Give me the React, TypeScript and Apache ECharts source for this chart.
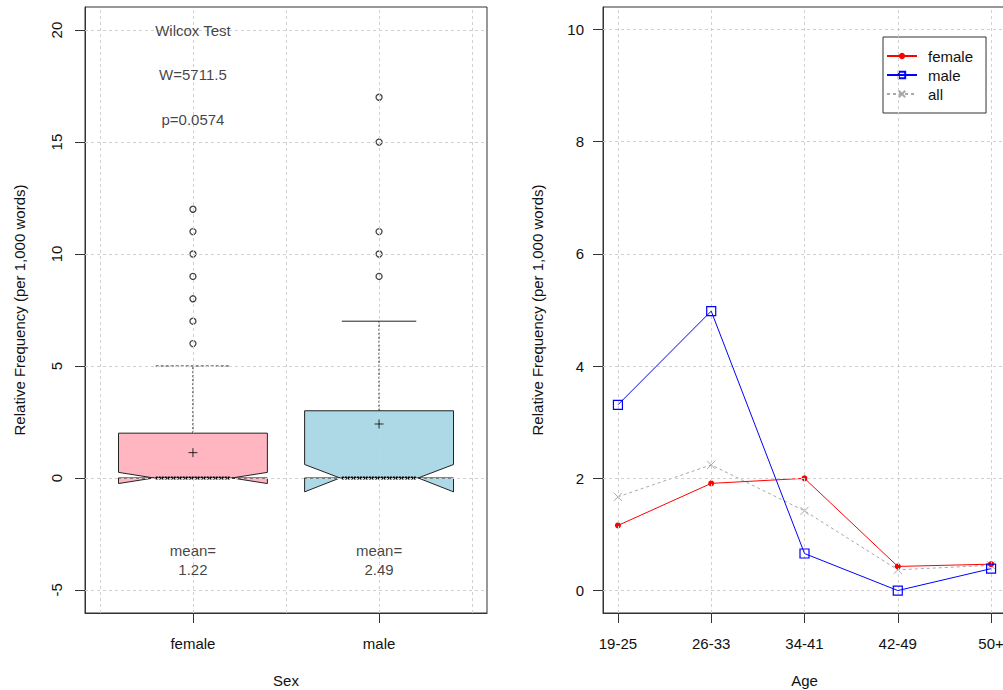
import React, { useEffect, useRef } from 'react';
import * as echarts from 'echarts';

// ---------- Left panel: Sex boxplot ----------
const sexCategories = ['female', 'male'];
const boxQ1 = [0, 0];
const boxMedian = [0, 0];
const boxQ3 = [2, 3];
const whiskerHigh = [5, 7];
const notchLow = [-0.25, -0.62];
const notchHigh = [0.25, 0.6];
const meanPoints = [1.13, 2.41];
const meanLabels = ['1.22', '2.49'];
const femaleOutliers = [6, 7, 8, 9, 10, 11, 12];
const maleOutliers = [9, 10, 11, 15, 17];
const wilcoxLines = ['Wilcox Test', 'W=5711.5', 'p=0.0574'];
const wilcoxY = [20, 18, 16];
const meanTextY = -3.68;
const leftYTicks = [-5, 0, 5, 10, 15, 20];
const leftGridX = [0.5, 1, 1.5, 2, 2.5];

// ---------- Right panel: Age lines ----------
const ageCategories = ['19-25', '26-33', '34-41', '42-49', '50+'];
const femaleFreq = [1.16, 1.91, 2.0, 0.43, 0.47];
const maleFreq = [3.31, 4.98, 0.66, 0, 0.39];
const allFreq = [1.67, 2.24, 1.42, 0.37, 0.45];
const rightYTicks = [0, 2, 4, 6, 8, 10];
const rightXTicks = [1, 2, 3, 4, 5];

// ---------- styles ----------
const FONT = '"Liberation Sans", Arial, sans-serif';
const TXT = '#111';
const FS = 15;
const boxFill = ['#FFB6C1', '#ADD8E6'];
const stapleDash: (number[] | null)[] = [[3, 2], null];
const gridLineStyle = { color: '#d0d0d0', type: [3, 3] as number[], width: 1 };

export default function App() {
  const ref = useRef<HTMLDivElement>(null);

  useEffect(() => {
    if (!ref.current) return;
    const chart = echarts.init(ref.current, undefined, { renderer: 'svg' });

    const boxData = sexCategories.map((_, i) => [
      i + 1, boxQ1[i], boxMedian[i], boxQ3[i], notchLow[i], notchHigh[i], whiskerHigh[i],
    ]);

    const outlierData: number[][] = [
      ...femaleOutliers.map((v) => [1, v]),
      ...maleOutliers.map((v) => [2, v]),
    ];

    const axisTick = { show: true, length: 10, inside: false, lineStyle: { color: '#333', width: 1 } };
    const axisLine = { show: true, onZero: false, lineStyle: { color: '#333', width: 1 } };

    const option: any = {
      animation: false,
      textStyle: { fontFamily: FONT },
      grid: [
        { left: 85, top: 7, right: 1003 - 487, bottom: 690 - 613, containLabel: false, outerBoundsMode: 'none', show: true, borderColor: '#333', borderWidth: 1, backgroundColor: 'transparent' },
        { left: 603, top: 7, right: -3, bottom: 690 - 613, containLabel: false, outerBoundsMode: 'none', show: true, borderColor: '#333', borderWidth: 1, backgroundColor: 'transparent' },
      ],
      xAxis: [
        {
          type: 'value', gridIndex: 0, min: 0.42, max: 2.58,
          axisLine, splitLine: { show: false },
          axisTick: { ...axisTick, customValues: [1, 2] },
          axisLabel: {
            customValues: [1, 2], margin: 23, fontSize: FS, color: TXT, fontFamily: FONT,
            formatter: (v: number) => sexCategories[Math.round(v) - 1] ?? '',
          },
          name: 'Sex', nameLocation: 'middle', nameGap: 60,
          nameTextStyle: { fontSize: FS, color: TXT, fontFamily: FONT },
        },
        {
          type: 'value', gridIndex: 1, min: 0.84, max: 5.16,
          axisLine, splitLine: { show: false },
          axisTick: { ...axisTick, customValues: rightXTicks },
          axisLabel: {
            customValues: rightXTicks, margin: 23, fontSize: FS, color: TXT, fontFamily: FONT,
            formatter: (v: number) => ageCategories[Math.round(v) - 1] ?? '',
          },
          name: 'Age', nameLocation: 'middle', nameGap: 60,
          nameTextStyle: { fontSize: FS, color: TXT, fontFamily: FONT },
        },
      ],
      yAxis: [
        {
          type: 'value', gridIndex: 0, min: -6.03, max: 21.03,
          axisLine, splitLine: { show: false },
          axisTick: { ...axisTick, customValues: leftYTicks },
          axisLabel: { customValues: leftYTicks, rotate: 90, margin: 21, fontSize: FS, color: TXT, fontFamily: FONT },
          name: 'Relative Frequency (per 1,000 words)', nameLocation: 'middle', nameGap: 58,
          nameTextStyle: { fontSize: FS, color: TXT, fontFamily: FONT },
        },
        {
          type: 'value', gridIndex: 1, min: -0.4, max: 10.4,
          axisLine, splitLine: { show: false },
          axisTick: { ...axisTick, customValues: rightYTicks },
          axisLabel: { customValues: rightYTicks, margin: 19, fontSize: FS, color: TXT, fontFamily: FONT },
          name: 'Relative Frequency (per 1,000 words)', nameLocation: 'middle', nameGap: 58,
          nameTextStyle: { fontSize: FS, color: TXT, fontFamily: FONT },
        },
      ],
      legend: {
        data: ['female', 'male', 'all'],
        orient: 'vertical', left: 883, top: 37,
        padding: [11, 13, 11, 3], itemGap: 3, itemWidth: 30, itemHeight: 8,
        borderColor: '#333', borderWidth: 1, borderRadius: 0, backgroundColor: '#fff',
        textStyle: { fontSize: FS, color: TXT, fontFamily: FONT, lineHeight: 16, padding: [0, 0, 0, 6] },
        selectedMode: false,
      },
      series: [
        // grid lines left
        {
          type: 'line', xAxisIndex: 0, yAxisIndex: 0, data: [], z: 0,
          markLine: {
            silent: true, symbol: ['none', 'none'], label: { show: false },
            lineStyle: gridLineStyle,
            data: [...leftGridX.map((v) => ({ xAxis: v })), ...leftYTicks.map((v) => ({ yAxis: v }))],
          },
        },
        // grid lines right
        {
          type: 'line', xAxisIndex: 1, yAxisIndex: 1, data: [], z: 0,
          markLine: {
            silent: true, symbol: ['none', 'none'], label: { show: false },
            lineStyle: gridLineStyle,
            data: [...rightXTicks.map((v) => ({ xAxis: v })), ...rightYTicks.map((v) => ({ yAxis: v }))],
          },
        },
        // notched boxes
        {
          type: 'custom', xAxisIndex: 0, yAxisIndex: 0, z: 3, data: boxData,
          renderItem: (params: any, api: any) => {
            const i = params.dataIndex;
            const x = api.value(0);
            const q1 = api.value(1), med = api.value(2), q3 = api.value(3);
            const nlo = api.value(4), nhi = api.value(5), wh = api.value(6);
            const hw = 0.4, nw = 0.21, sw = 0.2;
            const p = (a: number, b: number) => api.coord([a, b]);
            const poly = [
              p(x - hw, q1), p(x - hw, nlo), p(x - nw, med), p(x - hw, nhi), p(x - hw, q3),
              p(x + hw, q3), p(x + hw, nhi), p(x + nw, med), p(x + hw, nlo), p(x + hw, q1),
            ];
            const w0 = p(x, q3), w1 = p(x, wh);
            const s0 = p(x - sw, wh), s1 = p(x + sw, wh);
            const m0 = p(x - nw + 0.01, med), m1 = p(x + nw - 0.01, med);
            return {
              type: 'group',
              children: [
                { type: 'line', shape: { x1: w0[0], y1: w0[1], x2: w1[0], y2: w1[1] }, style: { stroke: '#111', lineWidth: 1, lineDash: [2, 2] } },
                { type: 'line', shape: { x1: s0[0], y1: s0[1], x2: s1[0], y2: s1[1] }, style: { stroke: '#222', lineWidth: 1, lineDash: stapleDash[i] || undefined } },
                { type: 'polygon', shape: { points: poly }, style: { fill: boxFill[i], stroke: '#222', lineWidth: 1 } },
                { type: 'line', shape: { x1: m0[0], y1: m0[1], x2: m1[0], y2: m1[1] }, style: { stroke: '#000', lineWidth: 3, lineDash: [2, 1] } },
              ],
            };
          },
        },
        // outliers
        {
          name: 'outliers', type: 'scatter', xAxisIndex: 0, yAxisIndex: 0, z: 4, data: outlierData,
          symbol: 'circle', symbolSize: 6,
          itemStyle: { color: '#ffffff', borderColor: '#111111', borderWidth: 1.3 },
        },
        // mean markers
        {
          name: 'means', type: 'scatter', xAxisIndex: 0, yAxisIndex: 0, z: 5,
          data: meanPoints.map((v, i) => [i + 1, v]),
          symbol: 'path://M0,5L10,5M5,0L5,10', symbolSize: 9,
          itemStyle: { color: 'none', borderColor: '#000', borderWidth: 1 },
        },
        // Wilcox text
        {
          name: 'wilcox', type: 'scatter', xAxisIndex: 0, yAxisIndex: 0, z: 6,
          data: wilcoxY.map((y) => [1, y]),
          symbolSize: 1, itemStyle: { color: 'rgba(0,0,0,0)' },
          label: {
            show: true, position: 'inside', fontSize: FS, color: TXT, fontFamily: FONT,
            formatter: (p: any) => wilcoxLines[p.dataIndex],
          },
        },
        // mean texts
        {
          name: 'meantext', type: 'scatter', xAxisIndex: 0, yAxisIndex: 0, z: 6,
          data: meanLabels.map((_, i) => [i + 1, meanTextY]),
          symbolSize: 1, itemStyle: { color: 'rgba(0,0,0,0)' },
          label: {
            show: true, position: 'inside', fontSize: FS, color: TXT, fontFamily: FONT, lineHeight: 19, align: 'center',
            formatter: (p: any) => 'mean=\n' + meanLabels[p.dataIndex],
          },
        },
        // right lines
        {
          name: 'all', type: 'line', xAxisIndex: 1, yAxisIndex: 1, z: 3,
          data: allFreq.map((v, i) => [i + 1, v]),
          symbol: 'path://M0,0L10,10M10,0L0,10', symbolSize: 8,
          lineStyle: { color: '#a8a8a8', width: 1, type: [3, 3] },
          itemStyle: { color: 'none', borderColor: '#a8a8a8', borderWidth: 1 },
        },
        {
          name: 'female', type: 'line', xAxisIndex: 1, yAxisIndex: 1, z: 4,
          data: femaleFreq.map((v, i) => [i + 1, v]),
          symbol: 'circle', symbolSize: 6,
          lineStyle: { color: '#ff0000', width: 1 },
          itemStyle: { color: '#ff0000', borderColor: '#ff0000', borderWidth: 0 },
        },
        {
          name: 'male', type: 'line', xAxisIndex: 1, yAxisIndex: 1, z: 5,
          data: maleFreq.map((v, i) => [i + 1, v]),
          symbol: 'rect', symbolSize: 9,
          lineStyle: { color: '#0000ff', width: 1 },
          itemStyle: { color: 'none', borderColor: '#0000ff', borderWidth: 1.2 },
        },
      ],
    };

    chart.setOption(option);
    return () => chart.dispose();
  }, []);

  return (
    <div
      ref={ref}
      style={{ position: 'fixed', left: 0, top: 0, width: 1003, height: 690, background: '#fff' }}
    />
  );
}
